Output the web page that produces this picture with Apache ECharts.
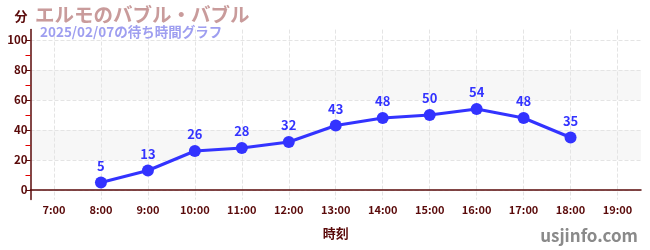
<!DOCTYPE html>
<html>
<head>
<meta charset="utf-8">
<script src="https://cdn.jsdelivr.net/npm/echarts@6/dist/echarts.min.js"></script>
<style>html,body{margin:0;padding:0;background:#fff}#c{width:650px;height:250px}</style>
</head>
<body>
<div id="c"></div>
<script>
const categories = ['7:00','8:00','9:00','10:00','11:00','12:00','13:00','14:00','15:00','16:00','17:00','18:00','19:00'];
const waitTimes = [null, 5, 13, 26, 28, 32, 43, 48, 50, 54, 48, 35, null];
const yTickValues = [0, 20, 40, 60, 80, 100];

const FONT = '"Noto Sans CJK JP", "Noto Sans", sans-serif';
const DARK = '#5a0a0a';
const chart = echarts.init(document.getElementById('c'), null, {renderer: 'canvas'});
chart.setOption({
  animation: false,
  backgroundColor: '#fff',
  title: [
    {text: 'エルモのバブル・バブル', left: 30, top: 0, textStyle: {fontFamily: FONT, fontSize: 19.5, fontWeight: 'bold', color: '#c99b9b'}},
    {text: '2025/02/07の待ち時間グラフ', left: 35, top: 20, textStyle: {fontFamily: FONT, fontSize: 13.5, fontWeight: 'bold', color: '#9e9ef0'}}
  ],
  graphic: [
    {type: 'text', right: 12, bottom: 6, style: {text: 'usjinfo.com', fontFamily: FONT, fontSize: 17, fontWeight: 'bold', fill: '#8a8a8a'}}
  ],
  grid: {left: 30.5, right: 9, top: 29.6, bottom: 50.4, containLabel: false},
  xAxis: {
    type: 'category',
    data: categories,
    boundaryGap: true,
    name: '時刻',
    nameLocation: 'middle',
    nameGap: 27,
    nameTextStyle: {fontFamily: FONT, fontSize: 13, fontWeight: 'bold', color: DARK},
    axisLine: {lineStyle: {color: DARK, width: 1.5}},
    axisTick: {alignWithLabel: true, length: 4, lineStyle: {color: '#888'}},
    axisLabel: {fontFamily: FONT, fontSize: 11, fontWeight: 'bold', color: DARK, margin: 5, interval: 0},
    splitLine: {show: true, alignWithLabel: true, lineStyle: {color: '#e4e4e4', type: 'dashed'}}
  },
  yAxis: {
    type: 'value',
    min: -6.4,
    max: 106.93,
    name: '分',
    nameLocation: 'end',
    nameGap: 7,
    nameTextStyle: {fontFamily: FONT, fontSize: 13, fontWeight: 'bold', color: DARK, align: 'right', padding: [0, 3, 0, 0]},
    axisLine: {show: true, lineStyle: {color: DARK, width: 1.5}},
    axisTick: {show: true, length: 5, customValues: yTickValues, lineStyle: {color: DARK}},
    minorTick: {show: true, splitNumber: 2, length: 5, lineStyle: {color: '#e00000', width: 1}},
    axisLabel: {fontFamily: FONT, fontSize: 11.5, fontWeight: 'bold', color: DARK, margin: 3, customValues: yTickValues},
    splitLine: {show: true, lineStyle: {color: '#e4e4e4', type: 'dashed'}},
    splitArea: {show: true, areaStyle: {color: ['rgba(255,255,255,0)', '#f7f7f7']}}
  },
  series: [{
    type: 'line',
    data: waitTimes,
    connectNulls: false,
    symbol: 'circle',
    symbolSize: 12,
    lineStyle: {color: '#3333ff', width: 3},
    itemStyle: {color: '#3333ff'},
    label: {show: true, position: 'top', distance: 4, fontFamily: FONT, fontSize: 13, fontWeight: 'bold', color: '#3333ff'}
  }]
});
</script>
</body>
</html>
